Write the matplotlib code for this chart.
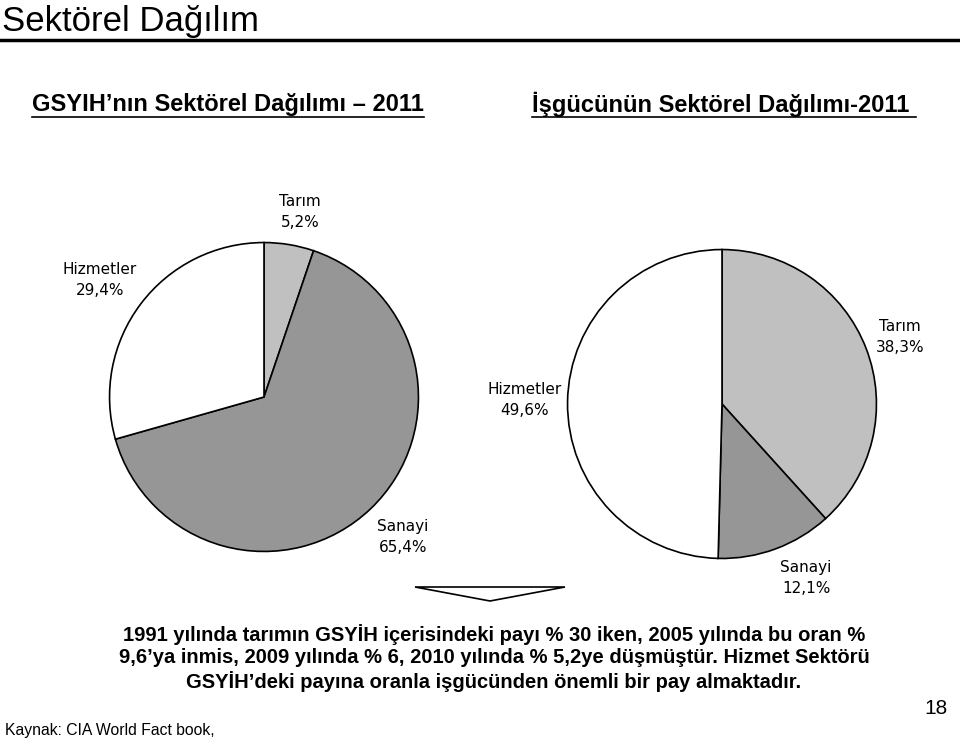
import matplotlib
matplotlib.use("Agg")
import matplotlib.pyplot as plt
from matplotlib.lines import Line2D
from matplotlib.patches import Polygon

W, H = 960, 742

sectors = ["Tarım", "Sanayi", "Hizmetler"]
gdp_share = [5.2, 65.4, 29.4]
labor_share = [38.3, 12.1, 49.6]
colors = ["#c0c0c0", "#969696", "#ffffff"]

gdp_title = "GSYIH\u2019nın Sektörel Dağılımı \u2013 2011"
labor_title = "İşgücünün Sektörel Dağılımı-2011 "
note = ("1991 yılında tarımın GSYİH içerisindeki payı % 30 iken, 2005 yılında bu oran %\n"
        "9,6\u2019ya inmis, 2009 yılında % 6, 2010 yılında % 5,2ye düşmüştür. Hizmet Sektörü\n"
        "GSYİH\u2019deki payına oranla işgücünden önemli bir pay almaktadır.")

plt.rcParams["font.family"] = ["Liberation Sans", "DejaVu Sans"]

fig = plt.figure(figsize=(W / 100, H / 100), dpi=100)


def fx(x):
    return x / W


def fy(y):
    return 1 - y / H


def pct(v):
    return "{0:.1f}%".format(v).replace(".", ",")


def draw_pie(cx, cy, r, vals, label_pos):
    ax = fig.add_axes([fx(cx - r), fy(cy + r), 2 * r / W, 2 * r / H])
    ax.pie(vals, colors=colors, startangle=90, counterclock=False,
           wedgeprops=dict(edgecolor="black", linewidth=1.2))
    ax.set_xlim(-1.01, 1.01)
    ax.set_ylim(-1.01, 1.01)
    ax.axis("off")
    for name, v, (x, y) in zip(sectors, vals, label_pos):
        fig.text(fx(x), fy(y), name + "\n" + pct(v), ha="center", va="center",
                 fontsize=11, family="DejaVu Sans", linespacing=1.45)


draw_pie(264, 397, 156, gdp_share, [(300, 212), (403, 537), (100, 280)])
draw_pie(722, 404, 156, labor_share, [(900, 337), (806, 578), (525, 400)])

# slide title and rule
fig.text(fx(2), fy(31), "Sektörel Dağılım", fontsize=25, ha="left", va="baseline")
fig.add_artist(Line2D([0, 1], [fy(40), fy(40)], color="black", lw=2.5))

# underlined sub titles
renderer = fig.canvas.get_renderer()
for txt, x in [(gdp_title, 228), (labor_title, 724)]:
    t = fig.text(fx(x), fy(104), txt, fontsize=17, fontweight="bold",
                 ha="center", va="center")
    bb = t.get_window_extent(renderer)
    fig.add_artist(Line2D([bb.x0 / W, bb.x1 / W], [fy(117), fy(117)],
                          color="black", lw=1.2))

# arrow triangle
fig.add_artist(Polygon([(fx(415), fy(587)), (fx(565), fy(587)), (fx(490), fy(601))],
                       closed=True, fill=False, edgecolor="black", lw=1.2))

fig.text(fx(494), fy(658), note, fontsize=14.5, fontweight="bold",
         ha="center", va="center", linespacing=1.2)
fig.text(fx(5), fy(731), "Kaynak: CIA World Fact book,", fontsize=11.3,
         ha="left", va="center")
fig.text(fx(936), fy(708), "18", fontsize=15, ha="center", va="center")

fig.savefig("out.png", dpi=100, facecolor="white")
